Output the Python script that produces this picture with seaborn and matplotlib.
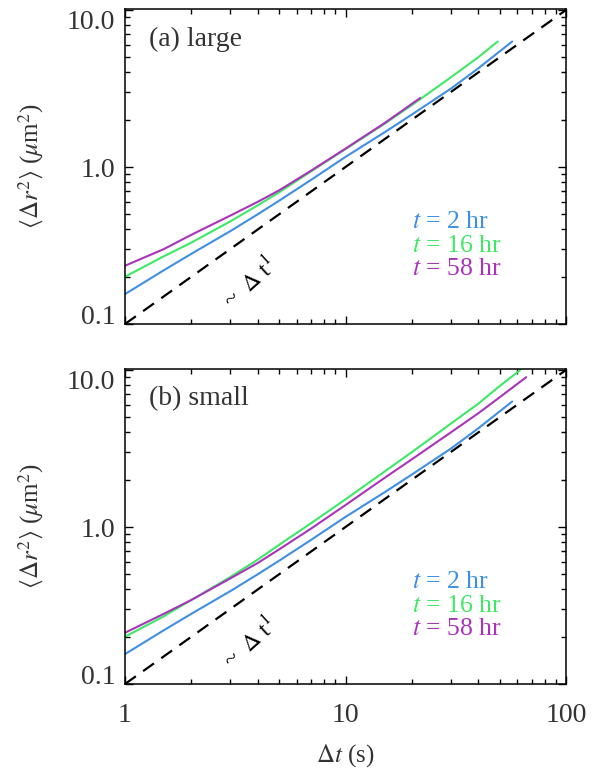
import numpy as np
import pandas as pd
import matplotlib
matplotlib.use("Agg")
import matplotlib.pyplot as plt
import matplotlib.ticker as mticker
import seaborn as sns

# ---------------- data ----------------
series_names = ["t = 2 hr", "t = 16 hr", "t = 58 hr"]
colors = ["#3f8fe6", "#3ee866", "#aa33bb"]

# panel (a) large
a_blue_t = [1, 1.5, 2, 3, 4, 5, 7, 10, 15, 20, 30, 40, 57]
a_blue_y = [0.155, 0.22, 0.28, 0.39, 0.50, 0.61, 0.83, 1.16, 1.66, 2.16, 3.15, 4.25, 6.30]
a_green_t = [1, 1.5, 2, 3, 4, 5, 7, 10, 15, 20, 30, 40, 49]
a_green_y = [0.20, 0.27, 0.33, 0.45, 0.57, 0.69, 0.94, 1.30, 1.88, 2.48, 3.72, 5.00, 6.30]
a_purple_t = [1, 1.5, 2, 3, 4, 5, 7, 10, 15, 21.8]
a_purple_y = [0.235, 0.30, 0.37, 0.49, 0.60, 0.71, 0.95, 1.31, 1.90, 2.75]

# panel (b) small
b_blue_t = [1, 1.5, 2, 3, 4, 5, 7, 10, 15, 20, 30, 40, 57]
b_blue_y = [0.155, 0.22, 0.28, 0.39, 0.50, 0.61, 0.83, 1.16, 1.66, 2.16, 3.15, 4.25, 6.30]
b_green_t = [1, 1.5, 2, 3, 4, 5, 7, 10, 15, 20, 30, 40, 50, 62]
b_green_y = [0.20, 0.27, 0.343, 0.48, 0.62, 0.77, 1.06, 1.50, 2.25, 3.00, 4.55, 6.10, 7.90, 10.0]
b_purple_t = [1, 1.5, 2, 3, 4, 5, 7, 10, 15, 20, 30, 40, 50, 66]
b_purple_y = [0.212, 0.28, 0.343, 0.47, 0.59, 0.72, 0.98, 1.38, 2.05, 2.70, 4.00, 5.30, 6.70, 9.0]

# reference power law ~ dt^1
ref_t = [1, 100]
ref_y = [0.1, 10.0]

x_ticks = [1, 10, 100]
x_ticklabels = ["1", "10", "100"]
y_ticks = [0.1, 1.0, 10.0]
y_ticklabels = ["0.1", "1.0", "10.0"]
panel_titles = ["(a) large", "(b) small"]


def make_df(tb, yb, tg, yg, tp, yp):
    parts = []
    for name, t, y in zip(series_names, [tb, tg, tp], [yb, yg, yp]):
        parts.append(pd.DataFrame({"dt": t, "msd": y, "series": name}))
    return pd.concat(parts, ignore_index=True)


df_a = make_df(a_blue_t, a_blue_y, a_green_t, a_green_y, a_purple_t, a_purple_y)
df_b = make_df(b_blue_t, b_blue_y, b_green_t, b_green_y, b_purple_t, b_purple_y)
df_ref = pd.DataFrame({"dt": ref_t, "msd": ref_y})

# ---------------- styling ----------------
sns.set_theme(style="ticks")
plt.rcParams["font.family"] = ["Liberation Serif", "DejaVu Serif"]
plt.rcParams["mathtext.fontset"] = "stix"
text_col = "#333333"

fig = plt.figure(figsize=(5.97, 7.75), dpi=100)
W, H = 597.0, 775.0
ax_a = fig.add_axes([125 / W, 1 - 324 / H, 441 / W, 315 / H])
ax_b = fig.add_axes([125 / W, 1 - 684 / H, 441 / W, 315 / H])

palette = dict(zip(series_names, colors))

for ax, df, title in [(ax_a, df_a, panel_titles[0]), (ax_b, df_b, panel_titles[1])]:
    sns.lineplot(data=df_ref, x="dt", y="msd", ax=ax, color="black",
                 linewidth=1.6, linestyle=(0, (6, 4)), legend=False)
    sns.lineplot(data=df, x="dt", y="msd", hue="series", palette=palette,
                 hue_order=series_names, ax=ax, linewidth=1.5, legend=False,
                 sort=False)
    ax.set_xscale("log")
    ax.set_yscale("log")
    ax.set_xlim(1, 100)
    ax.set_ylim(0.1, 10.15)
    ax.set_xticks(x_ticks)
    ax.set_yticks(y_ticks)
    ax.set_yticklabels(y_ticklabels)
    ax.xaxis.set_minor_locator(mticker.LogLocator(base=10, subs=np.arange(2, 10)))
    ax.yaxis.set_minor_locator(mticker.LogLocator(base=10, subs=np.arange(2, 10)))
    ax.xaxis.set_minor_formatter(mticker.NullFormatter())
    ax.yaxis.set_minor_formatter(mticker.NullFormatter())
    ax.tick_params(which="both", direction="in", top=True, right=True,
                   color="black", width=1.0, labelsize=20, labelcolor=text_col)
    ax.tick_params(which="major", length=6)
    ax.tick_params(which="minor", length=3.5)
    ax.tick_params(axis="y", pad=7)
    ax.tick_params(axis="x", pad=14)
    for sp in ax.spines.values():
        sp.set_visible(True)
        sp.set_color("black")
        sp.set_linewidth(1.1)
    ax.set_ylabel(r"$\langle\Delta r^2\rangle$ ($\mu$m$^2$)", fontsize=18,
                  color=text_col, labelpad=15)
    ax.text(0.055, 0.905, title, transform=ax.transAxes, fontsize=20,
            color=text_col, ha="left", va="center")
    for i, (name, c) in enumerate(zip(series_names, colors)):
        num = name.split("=")[1].strip()
        ax.text(0.651, 0.324 - i * 0.075, r"$t$ = " + num, transform=ax.transAxes,
                fontsize=18.5, color=c, ha="left", va="center")
    ax.text(0.285, 0.13, r"~  $\Delta$ t$^1$", transform=ax.transAxes,
            fontsize=17, color="black", rotation=42, ha="center", va="center")
    labs = ax.get_yticklabels()
    labs[0].set_va("baseline")
    labs[-1].set_va("top")

ax_a.set_xlabel("")
ax_a.set_xticklabels([])
ax_b.set_xticklabels(x_ticklabels)
ax_b.set_xlabel(r"$\Delta t$ (s)", fontsize=18, color=text_col, labelpad=10)

fig.savefig("out.png", dpi=100)
